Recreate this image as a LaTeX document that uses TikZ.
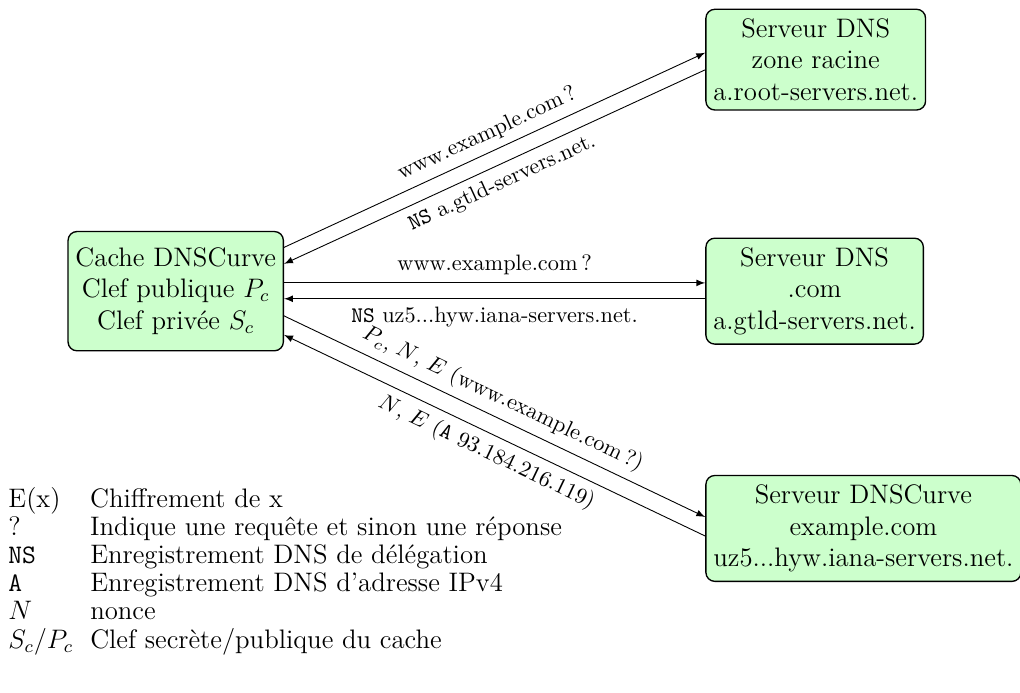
\documentclass[tikz,border=0pt]{standalone}
\usetikzlibrary{positioning}
\begin{document}
\begin{tikzpicture}[serveur/.style={draw, semithick, rounded corners, fill=green!20, align=center, font=\large, inner ysep=4.3pt}, >=latex]
    \useasboundingbox (0,0) rectangle (16.08,-10.92);

    \node (cache)   [serveur, minimum height=1.88cm] at (2.77,-4.59)            {Cache DNSCurve\\Clef publique $P_c$\\Clef privée $S_c$};
    \node (com)     [serveur, right=6.64cm of cache]                              {Serveur DNS\\.com\\a.gtld-servers.net.};
    \node (racine)  [serveur, above=2cm of com.north west, anchor=south west]    {Serveur DNS\\zone racine\\a.root-servers.net.};
    \node (exemple) [serveur, below=2.05cm of com.south west, anchor=north west] {Serveur DNSCurve\\example.com\\uz5...hyw.iana-servers.net.};

    \draw[->] ([yshift=6.9mm]cache.east)   -- node[above, sloped] {www.example.com\,?} ([yshift=1.1mm]racine.west);
    \draw[->] ([yshift=-1.6mm]racine.west) -- node[below, sloped] {\texttt{NS} a.gtld-servers.net.} ([yshift=4.3mm]cache.east);

    \draw[->] ([yshift=1.3mm]cache.east)   -- node[above] {www.example.com\,?} ([yshift=1.3mm]com.west);
    \draw[->] ([yshift=-1.2mm]com.west)    -- node[below] {\texttt{NS} uz5...hyw.iana-servers.net.} ([yshift=-1.2mm]cache.east);

    \draw[->] ([yshift=-3.9mm]cache.east)   -- node[above, sloped] {$P_c$, $N$, $E$ (www.example.com\,?)} ([yshift=1.8mm]exemple.west);
    \draw[->] ([yshift=-1.2mm]exemple.west) -- node[below, sloped] {$N$, $E$ (\texttt{A} 93.184.216.119)} ([yshift=-6.9mm]cache.east);

    \node (legende) [anchor=base west, inner sep=0pt, font=\large] at (0.126,-8.0) {%
        \renewcommand{\arraystretch}{0.9}%
        \begin{tabular}[t]{@{}p{1.29cm}@{}l@{}}
            E(x)      & Chiffrement de x\\
            ?         & Indique une requête et sinon une réponse\\
            \texttt{NS} & Enregistrement DNS de délégation\\
            \texttt{A}  & Enregistrement DNS d'adresse IPv4\\
            $N$       & nonce\\
            $S_c/P_c$ & Clef secrète/publique du cache
        \end{tabular}};
\end{tikzpicture}
\end{document}
